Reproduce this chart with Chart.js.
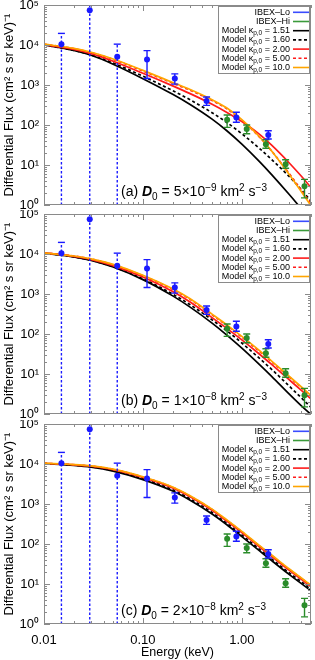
<!DOCTYPE html>
<html>
<head>
<meta charset="utf-8">
<script src="https://cdn.jsdelivr.net/npm/chart.js@4.4.1/dist/chart.umd.min.js"></script>
<style>
  body { margin: 0; background: #fff; width: 315px; height: 660px; position: relative; overflow: hidden; }
  canvas { position: absolute; left: 0; }
</style>
</head>
<body>
<canvas id="panelA" width="315" height="210" style="top:0px"></canvas>
<canvas id="panelB" width="315" height="210" style="top:210px"></canvas>
<canvas id="panelC" width="315" height="240" style="top:420px"></canvas>
<script>
// IBEX data (same in every panel)
const loEnergy = [0.015, 0.029, 0.055, 0.11, 0.21, 0.44, 0.88, 1.85];
const loFlux   = [10500, 74000, 5100, 4370, 1450, 398, 155, 56];
const loUpper  = [19500, null, 10500, 7240, 1900, 500, 209, 72];
const loLower  = [null, null, null, 1450, 1050, 309, 117, 44.7];

const hiEnergy = [0.71, 1.12, 1.75, 2.77, 4.3];
const hiFlux   = [135, 79.4, 33.1, 10.5, 2.95];
const hiUpper  = [178, 100, 42.7, 13.5, 4.37];
const hiLower  = [87, 60.3, 26.3, 8.3, 1.51];

// model curves
const modelEnergy = [0.01, 0.02, 0.03, 0.05, 0.1, 0.2, 0.3, 0.5, 0.7, 1, 1.5, 2, 3, 4, 5];

const fluxA151 = [10000, 7328, 5521, 3311, 1442, 586, 326, 140, 72.8, 33.2, 12.3, 5.74, 1.85, 0.80, 0.41];
const fluxA160 = [10000, 7328, 5636, 3556, 1660, 723, 427, 203, 117, 60.3, 26.2, 13.7, 5.20, 2.39, 1.25];
const fluxA200 = [10230, 7762, 6081, 3936, 1968, 951, 608, 330, 209, 122, 59.0, 31.3, 11.4, 5.22, 2.74];
const fluxA500 = [10470, 8128, 6457, 4365, 2239, 1109, 738, 409, 257, 131, 50.7, 22.4, 6.17, 2.34, 1.10];
const fluxA100 = [10470, 8222, 6577, 4477, 2317, 1159, 773, 430, 269, 136, 51.5, 22.3, 5.86, 2.14, 0.957];

const fluxB151 = [10470, 8511, 6950, 4732, 2286, 897, 469, 187, 95.3, 44.3, 17.4, 8.73, 3.17, 1.59, 0.973];
const fluxB160 = [10470, 8511, 6950, 4808, 2404, 991, 540, 226, 122, 59.6, 24.9, 13.1, 5.04, 2.52, 1.46];
const fluxB200 = [10720, 8710, 7261, 5129, 2655, 1156, 630, 257, 140, 71.1, 31.6, 17.3, 7.23, 3.89, 2.38];
const fluxB500 = [10720, 8913, 7499, 5370, 2851, 1303, 733, 301, 165, 83.6, 37.3, 20.3, 8.47, 4.55, 2.77];
const fluxB100 = [10720, 8913, 7586, 5495, 2951, 1349, 759, 313, 172, 87.1, 38.9, 21.1, 8.81, 4.73, 2.88];

const fluxC151 = [10230, 9226, 8337, 6622, 4074, 2109, 1245, 564, 308, 153, 68.2, 38.4, 17.4, 10.2, 6.84];
const fluxC160 = [10300, 9354, 8511, 6855, 4276, 2259, 1343, 612, 334, 168, 74.6, 42.3, 19.2, 11.3, 7.48];
const fluxC200 = [10410, 9550, 8770, 7211, 4603, 2506, 1507, 693, 378, 192, 85.5, 48.9, 22.2, 13.0, 8.57];
const fluxC500 = [10440, 9616, 8892, 7362, 4721, 2606, 1570, 726, 396, 202, 89.9, 51.6, 23.4, 13.8, 9.02];
const fluxC100 = [10470, 9661, 8933, 7430, 4786, 2655, 1603, 743, 406, 207, 92.0, 53.0, 24.0, 14.1, 9.23];

const kappaLabels = ['1.51', '1.60', '2.00', '5.00', '10.0'];
const yTickLabels = {0: '10\u2070', 1: '10\u00b9', 2: '10\u00b2', 3: '10\u00b3', 4: '10\u2074', 5: '10\u2075'};
const xTickLabels = {'-2': '0.01', '-1': '0.10', '0': '1.00'};

const FONT = '"Liberation Sans", Arial, Helvetica, sans-serif';
const BLUE = '#1a1aff';
const GREEN = '#2a8c2a';
const RED = '#ff1a1a';
const ORANGE = '#ffa500';

const lineStyles = [
  { color: '#000', dash: [] },
  { color: '#000', dash: [3, 2.5] },
  { color: RED, dash: [] },
  { color: RED, dash: [3, 2.5] },
  { color: ORANGE, dash: [] }
];

function isMajor(v) {
  const l = Math.log10(v);
  return Math.abs(l - Math.round(l)) < 1e-6;
}

// keep only 1..9 x 10^n (chart.js v4 also makes 1.5 x 10^n)
function isWholeMantissa(v) {
  const m = v / Math.pow(10, Math.floor(Math.log10(v) + 1e-9));
  return Math.abs(m - Math.round(m)) < 1e-6;
}

function pts(xs, ys) {
  return xs.map((x, i) => ({ x: x, y: ys[i] }));
}

const errorBars = {
  id: 'errorBars',
  beforeDatasetDraw(chart, args) {
    const ds = chart.data.datasets[args.index];
    if (!ds.errHi) return;
    const { ctx, chartArea: ca, scales: { x, y } } = chart;
    ctx.save();
    ctx.beginPath();
    ctx.rect(ca.left, ca.top, ca.width, ca.height);
    ctx.clip();
    ctx.strokeStyle = ds.backgroundColor;
    ctx.lineWidth = 1.4;
    ds.data.forEach((p, i) => {
      const px = x.getPixelForValue(p.x);
      const lo = ds.errLo[i], hi = ds.errHi[i];
      const yTop = hi == null ? ca.top : y.getPixelForValue(hi);
      const yBot = lo == null ? ca.bottom : y.getPixelForValue(lo);
      ctx.setLineDash(lo == null ? [2.5, 2] : []);
      ctx.beginPath();
      ctx.moveTo(px, yBot);
      ctx.lineTo(px, yTop);
      ctx.stroke();
      ctx.setLineDash([]);
      ctx.beginPath();
      if (hi != null) { ctx.moveTo(px - 3.5, yTop); ctx.lineTo(px + 3.5, yTop); }
      if (lo != null) { ctx.moveTo(px - 3.5, yBot); ctx.lineTo(px + 3.5, yBot); }
      ctx.stroke();
    });
    ctx.restore();
  }
};

const frame = {
  id: 'frame',
  afterDatasetsDraw(chart) {
    const { ctx, chartArea: ca, scales: { x, y } } = chart;
    ctx.save();
    ctx.strokeStyle = '#8a8a8a';
    ctx.lineWidth = 1;
    ctx.strokeRect(ca.left + 0.5, ca.top + 0.5, ca.width - 1, ca.height - 1);
    ctx.beginPath();
    x.ticks.filter(t => isWholeMantissa(t.value)).forEach(t => {
      const px = Math.round(x.getPixelForValue(t.value)) + 0.5;
      const len = isMajor(t.value) ? 6 : 3;
      ctx.moveTo(px, ca.bottom); ctx.lineTo(px, ca.bottom - len);
      ctx.moveTo(px, ca.top); ctx.lineTo(px, ca.top + len);
    });
    y.ticks.filter(t => isWholeMantissa(t.value)).forEach(t => {
      const py = Math.round(y.getPixelForValue(t.value)) + 0.5;
      const len = isMajor(t.value) ? 6 : 3;
      ctx.moveTo(ca.left, py); ctx.lineTo(ca.left + len, py);
      ctx.moveTo(ca.right, py); ctx.lineTo(ca.right - len, py);
    });
    ctx.stroke();
    ctx.restore();
  }
};

// draws a run of text pieces: [text, font, dy]
function drawRun(ctx, x, y, pieces, align) {
  let total = 0;
  pieces.forEach(p => { ctx.font = p[1]; total += ctx.measureText(p[0]).width; });
  let cx = align === 'right' ? x - total : x;
  pieces.forEach(p => {
    ctx.font = p[1];
    ctx.fillText(p[0], cx, y + (p[2] || 0));
    cx += ctx.measureText(p[0]).width;
  });
}

const legendBox = {
  id: 'legendBox',
  afterDraw(chart) {
    const { ctx, chartArea: ca } = chart;
    const left = 218, top = ca.top + 1, right = ca.right - 1, h = 68;
    ctx.save();
    ctx.fillStyle = '#fff';
    ctx.fillRect(left, top, right - left, h);
    ctx.strokeStyle = '#8a8a8a';
    ctx.lineWidth = 1;
    ctx.strokeRect(left + 0.5, top + 0.5, right - left - 1, h - 1);
    ctx.fillStyle = '#000';
    ctx.textBaseline = 'middle';
    const f = '9px ' + FONT, fs = '6.5px ' + FONT;
    const rows = [
      { pieces: [['IBEX\u2013Lo', f]], color: '#3a4cff', dash: [] },
      { pieces: [['IBEX\u2013Hi', f]], color: '#3a9a3a', dash: [] }
    ];
    kappaLabels.forEach((k, i) => rows.push({
      pieces: [['Model \u03ba', f], ['p,0', fs, 2.5], [' = ' + k, f]],
      color: lineStyles[i].color, dash: lineStyles[i].dash
    }));
    rows.forEach((r, i) => {
      const yy = top + 6.3 + i * 9.2;
      ctx.fillStyle = '#000';
      drawRun(ctx, 290, yy, r.pieces, 'right');
      ctx.strokeStyle = r.color;
      ctx.lineWidth = 1.6;
      ctx.setLineDash(r.dash);
      ctx.beginPath();
      ctx.moveTo(293, yy);
      ctx.lineTo(309, yy);
      ctx.stroke();
    });
    ctx.restore();
  }
};

const panelText = {
  id: 'panelText',
  afterDraw(chart, args, opts) {
    const { ctx, chartArea: ca } = chart;
    const f = '14px ' + FONT, fb = 'italic bold 14px ' + FONT, fs = '10px ' + FONT;
    ctx.save();
    ctx.fillStyle = '#000';
    ctx.textBaseline = 'alphabetic';
    drawRun(ctx, 121, ca.bottom - 9, [
      ['(' + opts.tag + ') ', f], ['D', fb], ['0', fs, 4],
      [' = ' + opts.coef + '\u00d710', f], ['\u2212' + opts.exp, fs, -5],
      [' km', f], ['2', fs, -5], [' s', f], ['\u22123', fs, -5]
    ], 'left');
    ctx.restore();
  }
};

// invisible tick marks: they only push the labels away from the axis
const hiddenTicks = (len) => ({
  display: true, drawOnChartArea: false, drawTicks: true, tickLength: len, color: 'rgba(0,0,0,0)'
});

function makePanel(id, fluxes, text, padTop, xHeight, showX) {
  const datasets = [
    {
      label: 'IBEX-Lo', type: 'line', showLine: false, order: 0,
      data: pts(loEnergy, loFlux), errHi: loUpper, errLo: loLower,
      backgroundColor: BLUE, borderColor: BLUE, pointRadius: 3, pointBorderWidth: 0
    },
    {
      label: 'IBEX-Hi', type: 'line', showLine: false, order: 0,
      data: pts(hiEnergy, hiFlux), errHi: hiUpper, errLo: hiLower,
      backgroundColor: GREEN, borderColor: GREEN, pointRadius: 3, pointBorderWidth: 0
    }
  ];
  // kappa 10 is drawn last (on top), kappa 1.51 first
  fluxes.forEach((fl, i) => datasets.push({
    label: 'Model ' + kappaLabels[i], order: 5 - i,
    data: pts(modelEnergy, fl),
    borderColor: lineStyles[i].color, borderDash: lineStyles[i].dash,
    borderWidth: 1.7, pointRadius: 0, fill: false, cubicInterpolationMode: 'monotone'
  }));

  return new Chart(document.getElementById(id), {
    type: 'line',
    data: { datasets: datasets },
    options: {
      responsive: false,
      animation: false,
      layout: { padding: { top: padTop, right: 1, left: 0, bottom: 0 } },
      plugins: {
        legend: { display: false },
        tooltip: { enabled: false },
        panelText: text
      },
      scales: {
        x: {
          type: 'logarithmic', min: 0.01, max: 5,
          grid: hiddenTicks(9), border: { display: false },
          ticks: {
            display: showX, autoSkip: false, maxRotation: 0, padding: 0, color: '#000',
            font: { family: FONT, size: 13 },
            callback: v => isMajor(v) ? (xTickLabels[Math.round(Math.log10(v))] || '') : ''
          },
          title: {
            display: showX, text: 'Energy (keV)', color: '#000',
            font: { family: FONT, size: 12.5 }, padding: { top: 0, bottom: 0 }
          },
          afterFit: s => { s.height = xHeight; }
        },
        y: {
          type: 'logarithmic', min: 1, max: 1e5,
          grid: hiddenTicks(5), border: { display: false },
          ticks: {
            autoSkip: false, padding: 0, color: '#000',
            font: { family: FONT, size: 13, lineHeight: 0.1 },
            callback: v => isMajor(v) ? (yTickLabels[Math.round(Math.log10(v))] || '') : ''
          },
          title: {
            display: true, text: 'Differential Flux (cm\u00b2 s sr keV)\u207b\u00b9', color: '#000',
            font: { family: FONT, size: 13 }, padding: { top: 2, bottom: 0 }
          },
          afterFit: s => { s.width = 44; }
        }
      }
    },
    plugins: [errorBars, frame, legendBox, panelText]
  });
}

makePanel('panelA', [fluxA151, fluxA160, fluxA200, fluxA500, fluxA100],
  { tag: 'a', coef: '5', exp: '9' }, 5, 5, false);
makePanel('panelB', [fluxB151, fluxB160, fluxB200, fluxB500, fluxB100],
  { tag: 'b', coef: '1', exp: '8' }, 4, 6, false);
makePanel('panelC', [fluxC151, fluxC160, fluxC200, fluxC500, fluxC100],
  { tag: 'c', coef: '2', exp: '8' }, 4, 36, true);
</script>
</body>
</html>
